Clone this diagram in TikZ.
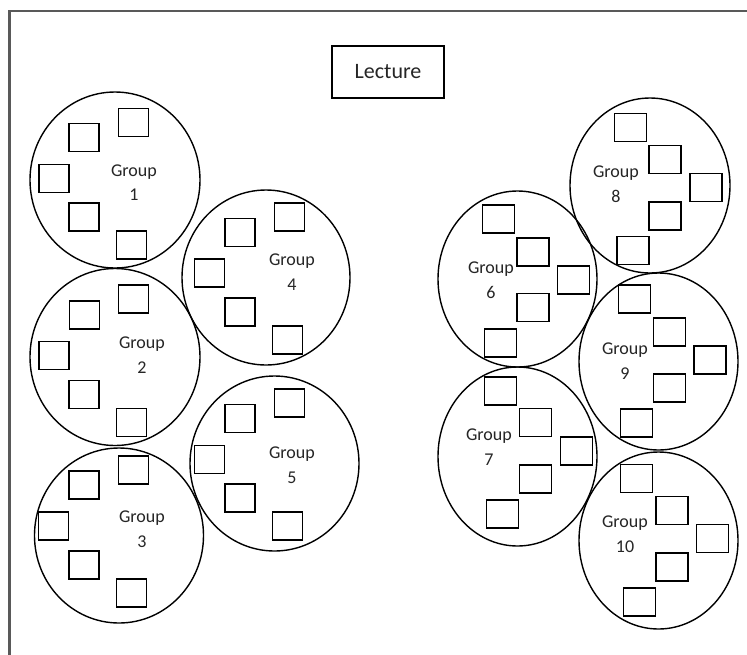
\documentclass[tikz,border=0pt]{standalone}
\usepackage{fontspec}
\setmainfont{Carlito}
\usetikzlibrary{shapes.geometric}
\definecolor{frameg}{HTML}{595959}
\definecolor{txt}{HTML}{262626}
\tikzset{
  table/.style={draw=black, line width=1.4pt, ellipse, inner sep=0pt},
  seatL/.style={draw=black, line width=1.5pt, rectangle, inner sep=0pt, minimum width=30pt, minimum height=28pt},
  seatR/.style={draw=black, line width=1.5pt, rectangle, inner sep=0pt, minimum width=32pt, minimum height=28pt},
  lbl/.style={anchor=base, inner sep=0pt, text=txt, font=\fontsize{18}{20}\selectfont},
  lecturebox/.style={draw=black, line width=1.3pt, rectangle, inner sep=0pt, minimum width=112pt, minimum height=52pt, text=txt, font=\fontsize{22}{24}\selectfont}
}
\newcommand\grp[7]{% name, cx, cy, w, h, lx, ly(base) ; label text = number
  \node[table, minimum width=#4pt, minimum height=#5pt] (#1) at (#2,#3) {};
}
\begin{document}
\begin{tikzpicture}[x=1pt,y=-1pt]
\useasboundingbox (0,0) rectangle (747,654);
\clip (0,0) rectangle (747,654);
\fill[white] (0,0) rectangle (747,654);
\draw[frameg, line width=2.2pt] (9.5,11) rectangle (780,700);

\node[lecturebox] (lecture) at (388,72) {Lecture};

% Group 1
\node[table, minimum width=170pt, minimum height=176pt] (g1) at (115,180) {};
\node[seatL] (g1s1) at (84,137.5) {};
\node[seatL] (g1s2) at (133.5,122.5) {};
\node[seatL] (g1s3) at (54,178.5) {};
\node[seatL] (g1s4) at (84,217) {};
\node[seatL] (g1s5) at (131.5,245) {};
\node[lbl] (g1a) at (134,176) {Group};
\node[lbl] (g1b) at (134,200) {1};

% Group 2
\node[table, minimum width=170pt, minimum height=177pt] (g2) at (115,357) {};
\node[seatL] (g2s1) at (133.5,299) {};
\node[seatL] (g2s2) at (84.5,315) {};
\node[seatL] (g2s3) at (54,355.5) {};
\node[seatL] (g2s4) at (84,394.5) {};
\node[seatL] (g2s5) at (131.5,422.5) {};
\node[lbl] (g2a) at (142,348) {Group};
\node[lbl] (g2b) at (142,373) {2};

% Group 3
\node[table, minimum width=169pt, minimum height=175pt] (g3) at (119,535.5) {};
\node[seatL] (g3s1) at (133.5,470) {};
\node[seatL] (g3s2) at (84,485) {};
\node[seatL] (g3s3) at (53.5,526) {};
\node[seatL] (g3s4) at (84,565) {};
\node[seatL] (g3s5) at (131.5,593) {};
\node[lbl] (g3a) at (142,522) {Group};
\node[lbl] (g3b) at (142,547) {3};

% Group 4
\node[table, minimum width=168pt, minimum height=175pt] (g4) at (266,277.5) {};
\node[seatL] (g4s1) at (289.5,217) {};
\node[seatL] (g4s2) at (240,232.5) {};
\node[seatL] (g4s3) at (209.5,273) {};
\node[seatL] (g4s4) at (240,312) {};
\node[seatL] (g4s5) at (287.5,340) {};
\node[lbl] (g4a) at (292,265) {Group};
\node[lbl] (g4b) at (292,290) {4};

% Group 5
\node[table, minimum width=169pt, minimum height=175pt] (g5) at (274.5,463.5) {};
\node[seatL] (g5s1) at (289.5,403) {};
\node[seatL] (g5s2) at (240,418.5) {};
\node[seatL] (g5s3) at (209.5,459.5) {};
\node[seatL] (g5s4) at (240,498) {};
\node[seatL] (g5s5) at (287.5,526) {};
\node[lbl] (g5a) at (292,458) {Group};
\node[lbl] (g5b) at (292,483) {5};

% Group 6
\node[table, minimum width=159pt, minimum height=176pt] (g6) at (517.5,279) {};
\node[seatR] (g6s1) at (498.5,219) {};
\node[seatR] (g6s2) at (533,252) {};
\node[seatR] (g6s3) at (573.5,280) {};
\node[seatR] (g6s4) at (533,307.5) {};
\node[seatR] (g6s5) at (500.5,343) {};
\node[lbl] (g6a) at (491,273) {Group};
\node[lbl] (g6b) at (491,298) {6};

% Group 7
\node[table, minimum width=159pt, minimum height=179pt] (g7) at (517.5,456.5) {};
\node[seatR] (g7s1) at (500.5,391) {};
\node[seatR] (g7s2) at (535.5,422.5) {};
\node[seatR] (g7s3) at (576.5,451) {};
\node[seatR] (g7s4) at (535.5,479) {};
\node[seatR] (g7s5) at (502.5,514) {};
\node[lbl] (g7a) at (489,440) {Group};
\node[lbl] (g7b) at (489,465) {7};

% Group 8
\node[table, minimum width=160pt, minimum height=175pt] (g8) at (650,185.5) {};
\node[seatR] (g8s1) at (630.5,127.5) {};
\node[seatR] (g8s2) at (665,159.5) {};
\node[seatR] (g8s3) at (706,187.5) {};
\node[seatR] (g8s4) at (665,216) {};
\node[seatR] (g8s5) at (633,250.5) {};
\node[lbl] (g8a) at (616,177) {Group};
\node[lbl] (g8b) at (616,202) {8};

% Group 9
\node[table, minimum width=159pt, minimum height=177pt] (g9) at (658.5,361.5) {};
\node[seatR] (g9s1) at (634.5,299) {};
\node[seatR] (g9s2) at (669.5,332) {};
\node[seatR] (g9s3) at (710,360) {};
\node[seatR] (g9s4) at (669.5,388) {};
\node[seatR] (g9s5) at (636.5,423) {};
\node[lbl] (g9a) at (625,354) {Group};
\node[lbl] (g9b) at (625,379) {9};

% Group 10
\node[table, minimum width=159pt, minimum height=177pt] (g10) at (658.5,540.5) {};
\node[seatR] (g10s1) at (636.5,478.5) {};
\node[seatR] (g10s2) at (672,510.5) {};
\node[seatR] (g10s3) at (712.5,538.5) {};
\node[seatR] (g10s4) at (672,567) {};
\node[seatR] (g10s5) at (639.5,602) {};
\node[lbl] (g10a) at (625,527) {Group};
\node[lbl] (g10b) at (625,552) {10};
\end{tikzpicture}
\end{document}
